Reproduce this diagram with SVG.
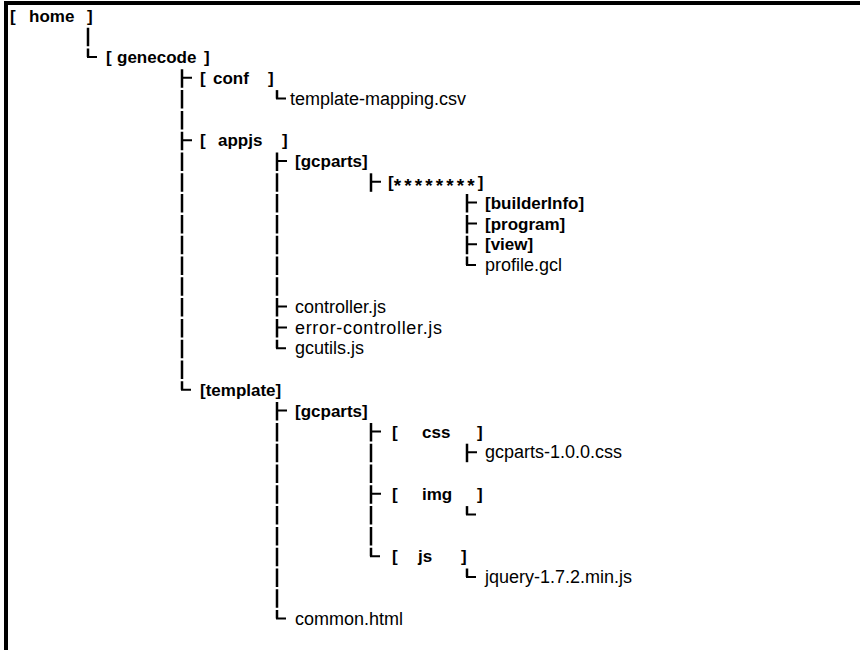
<svg xmlns="http://www.w3.org/2000/svg" width="860" height="650" viewBox="0 0 860 650">
<style>
.d{font-family:"Liberation Sans",Arial,sans-serif;font-size:17px;font-weight:bold;fill:#000}
.f{font-family:"Liberation Sans",Arial,sans-serif;font-size:18px;fill:#000}
.a{font-size:19px;letter-spacing:3.1px}
.v{stroke:#000;stroke-width:2.5;fill:none;stroke-dasharray:18.5 2.3}
.h{stroke:#000;stroke-width:2;fill:none}
</style>
<rect x="0" y="0" width="860" height="650" fill="#fff"/>
<rect x="4" y="1" width="856" height="4" fill="#000"/>
<rect x="4" y="1" width="4" height="649" fill="#000"/>
<g id="connectors">
<path class="v" d="M88 27.7V57"/>
<path class="v" d="M182 69.3V389.8"/>
<path class="v" d="M277 90.1V98.6"/>
<path class="v" d="M277 152.5V348.2"/>
<path class="v" d="M371 173.3V191.8"/>
<path class="v" d="M467 194.1V265"/>
<path class="v" d="M277 402.1V618.6"/>
<path class="v" d="M371 422.9V556.2"/>
<path class="v" d="M467 443.7V462.2"/>
<path class="v" d="M467 506.1V514.6"/>
<path class="v" d="M467 568.5V577"/>
<path class="h" d="M87 57H97M181 77.8H192M276 98.6H286M181 140.2H192M276 161H287M370 181.8H381M466 202.6H477M466 223.4H477M466 244.2H477M466 265H476M276 306.6H287M276 327.4H287M276 348.2H286M181 389.8H191M276 410.6H287M370 431.4H381M466 452.2H477M370 493.8H381M466 514.6H476M370 556.2H380M466 577H476M276 618.6H286"/>
</g>
<g id="home"><text class="d" y="21.6"><tspan x="10">[ </tspan><tspan x="29">home </tspan><tspan x="87">]</tspan></text></g>
<g id="genecode"><text class="d" y="63.2"><tspan x="106">[ </tspan><tspan x="117">genecode </tspan><tspan x="204">]</tspan></text></g>
<g id="conf"><text class="d" y="84"><tspan x="200">[ </tspan><tspan x="213">conf </tspan><tspan x="268">]</tspan></text></g>
<g id="template-mapping"><text class="f" x="290" y="104.8">template-mapping.csv</text></g>
<g id="appjs"><text class="d" y="146.4"><tspan x="200">[ </tspan><tspan x="218">appjs </tspan><tspan x="282">]</tspan></text></g>
<g id="gcparts1"><text class="d" x="295" y="167.2">[gcparts]</text></g>
<g id="stars"><text class="d" x="388" y="188">[<tspan class="a" dy="4">********</tspan><tspan dy="-4">]</tspan></text></g>
<g id="builderInfo"><text class="d" x="485" y="208.8">[builderInfo]</text></g>
<g id="program"><text class="d" x="485" y="229.6">[program]</text></g>
<g id="view"><text class="d" x="485" y="250.4">[view]</text></g>
<g id="profile"><text class="f" x="485" y="271.2">profile.gcl</text></g>
<g id="controller"><text class="f" x="295" y="312.8">controller.js</text></g>
<g id="error-controller"><text class="f" x="295" y="333.6" textLength="147" lengthAdjust="spacing">error-controller.js</text></g>
<g id="gcutils"><text class="f" x="295" y="354.4">gcutils.js</text></g>
<g id="template"><text class="d" x="200" y="396">[template]</text></g>
<g id="gcparts2"><text class="d" x="295" y="416.8">[gcparts]</text></g>
<g id="css"><text class="d" y="437.6"><tspan x="392">[ </tspan><tspan x="422">css </tspan><tspan x="477">]</tspan></text></g>
<g id="gcparts-css"><text class="f" x="485" y="458.4">gcparts-1.0.0.css</text></g>
<g id="img"><text class="d" y="500"><tspan x="392">[ </tspan><tspan x="422">img </tspan><tspan x="477">]</tspan></text></g>
<g id="js"><text class="d" y="562.4"><tspan x="392">[ </tspan><tspan x="418">js </tspan><tspan x="461">]</tspan></text></g>
<g id="jquery"><text class="f" x="485" y="583.2">jquery-1.7.2.min.js</text></g>
<g id="common"><text class="f" x="295" y="624.8">common.html</text></g>
</svg>
